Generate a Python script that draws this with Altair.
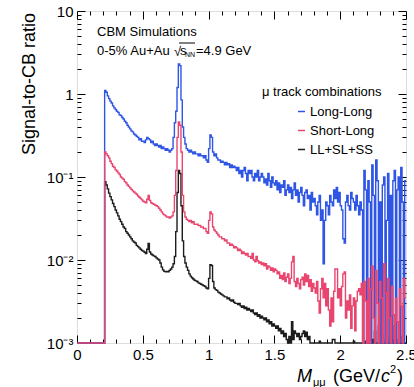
import altair as alt
import pandas as pd

# ---------------- data ----------------
BIN_START = 0.21   # first bin lower edge (GeV/c^2)
BIN_WIDTH = 0.01
X_MAX = 2.5
FLOOR = 0.0009     # bins whose content is below the 10^-3 axis floor

series_names = ["Long-Long", "Short-Long", "LL+SL+SS"]
series_colors = ["#2f55e4", "#e9466f", "#1c1c1c"]

long_long = [
    1.10, 1.05, 0.95, 0.88, 0.82, 0.78, 0.72, 0.68, 0.65, 0.62,
    0.60, 0.56, 0.55, 0.52, 0.50, 0.47, 0.45, 0.42, 0.40, 0.38,
    0.36, 0.35, 0.33, 0.32, 0.31, 0.30, 0.28, 0.29, 0.27, 0.27,
    0.26, 0.28, 0.30, 0.29, 0.28, 0.26, 0.27, 0.25, 0.24, 0.25,
    0.24, 0.23, 0.24, 0.22, 0.23, 0.22, 0.21, 0.22, 0.21, 0.20,
    0.21, 0.22, 0.30, 0.45, 0.62, 1.20, 2.30, 2.20, 0.85, 0.40,
    0.30, 0.25, 0.22, 0.21, 0.20, 0.21, 0.20, 0.19, 0.20, 0.19,
    0.19, 0.18, 0.19, 0.18, 0.18, 0.17, 0.18, 0.16, 0.15, 0.22,
    0.32, 0.30, 0.20, 0.18, 0.19, 0.17, 0.16, 0.16, 0.15, 0.155,
    0.15, 0.14, 0.15, 0.14, 0.145, 0.13, 0.14, 0.13, 0.135, 0.13,
    0.12, 0.13, 0.11, 0.12, 0.10, 0.12, 0.13, 0.11, 0.09, 0.12,
    0.11, 0.12, 0.10, 0.09, 0.11, 0.10, 0.12, 0.09, 0.10, 0.11,
    0.10, 0.085, 0.095, 0.08, 0.11, 0.09, 0.075, 0.10, 0.085, 0.08,
    0.09, 0.07, 0.085, 0.065, 0.08, 0.075, 0.09, 0.06, 0.07, 0.08,
    0.065, 0.075, 0.055, 0.07, 0.085, 0.06, 0.07, 0.05, 0.065, 0.075,
    0.06, 0.045, 0.065, 0.07, 0.055, 0.06, 0.04, 0.065, 0.05, 0.055,
    0.045, 0.035, 0.05, 0.06, 0.03, 0.04, 0.009, 0.03, 0.05, 0.045,
    0.035, 0.06, 0.05, 0.045, 0.07, 0.055, 0.075, 0.05, 0.065, 0.045,
    0.04, 0.018, 0.016, 0.05, 0.06, 0.045, 0.04, 0.065, 0.055, 0.05,
    0.04, 0.06, 0.045, 0.035, 0.05, 0.04, 0.0009, 0.12, 0.07, 0.0009,
    0.09, 0.05, 0.0009, 0.14, 0.06, 0.0009, 0.16, 0.09, 0.0009, 0.05,
    0.0009, 0.08, 0.10, 0.0009, 0.03, 0.11, 0.0009, 0.06, 0.0009, 0.09,
    0.12, 0.0009, 0.07, 0.10, 0.0009, 0.13, 0.05, 0.0009, 0.09,
]

short_long = [
    0.20, 0.19, 0.18, 0.17, 0.155, 0.145, 0.135, 0.13, 0.122, 0.118,
    0.112, 0.107, 0.10, 0.097, 0.094, 0.088, 0.085, 0.08, 0.077, 0.074,
    0.071, 0.068, 0.066, 0.064, 0.062, 0.059, 0.057, 0.055, 0.053, 0.051,
    0.050, 0.049, 0.054, 0.060, 0.052, 0.049, 0.048, 0.047, 0.046, 0.045,
    0.044, 0.042, 0.040, 0.038, 0.036, 0.035, 0.034, 0.033, 0.033, 0.032,
    0.033, 0.034, 0.038, 0.06, 0.12, 0.30, 0.46, 0.42, 0.20, 0.06,
    0.038, 0.033, 0.031, 0.030, 0.029, 0.030, 0.028, 0.029, 0.027, 0.027,
    0.027, 0.026, 0.026, 0.025, 0.025, 0.024, 0.024, 0.022, 0.021, 0.03,
    0.038, 0.036, 0.025, 0.023, 0.022, 0.021, 0.020, 0.019, 0.019, 0.018,
    0.018, 0.017, 0.0175, 0.016, 0.016, 0.015, 0.0155, 0.015, 0.014, 0.0145,
    0.014, 0.013, 0.0135, 0.013, 0.012, 0.0125, 0.012, 0.0115, 0.012, 0.011,
    0.011, 0.0105, 0.012, 0.010, 0.0095, 0.011, 0.0098, 0.0092, 0.0095, 0.0088,
    0.0092, 0.0085, 0.009, 0.0078, 0.0085, 0.0082, 0.0075, 0.008, 0.0072, 0.0078,
    0.0075, 0.0068, 0.0072, 0.006, 0.0065, 0.0058, 0.007, 0.0055, 0.0062, 0.0068,
    0.0052, 0.0060, 0.0095, 0.0110, 0.0055, 0.0048, 0.006, 0.0052, 0.0045, 0.0058,
    0.0062, 0.005, 0.0068, 0.0055, 0.0065, 0.0048, 0.0058, 0.0042, 0.0052, 0.0046,
    0.004, 0.0055, 0.0032, 0.0023, 0.0045, 0.006, 0.0035, 0.0052, 0.0028, 0.0045,
    0.0025, 0.0016, 0.0035, 0.0018, 0.0042, 0.0078, 0.0078, 0.0035, 0.0045, 0.0028,
    0.0048, 0.0068, 0.0072, 0.0020, 0.0032, 0.0025, 0.0038, 0.0015, 0.0028, 0.0035,
    0.0014, 0.0032, 0.0042, 0.0045, 0.0038, 0.0052, 0.0009, 0.0055, 0.0032, 0.0009,
    0.006, 0.0009, 0.0045, 0.0085, 0.002, 0.0009, 0.0075, 0.003, 0.0009, 0.0055,
    0.0035, 0.0009, 0.009, 0.004, 0.0009, 0.006, 0.002, 0.0009, 0.0048, 0.0022,
    0.0009, 0.0035, 0.0018, 0.0009, 0.0045, 0.0028, 0.0009, 0.006, 0.0035,
]

all_comb = [
    0.088, 0.080, 0.072, 0.064, 0.058, 0.053, 0.048, 0.044, 0.040, 0.037,
    0.034, 0.031, 0.029, 0.027, 0.025, 0.024, 0.022, 0.021, 0.020, 0.019,
    0.018, 0.017, 0.0165, 0.016, 0.015, 0.0145, 0.014, 0.0135, 0.013, 0.0128,
    0.0124, 0.012, 0.0135, 0.0158, 0.0125, 0.0118, 0.0115, 0.0112, 0.011, 0.0106,
    0.0103, 0.0100, 0.0092, 0.0082, 0.0076, 0.0073, 0.0072, 0.0073, 0.0072, 0.0075,
    0.0078, 0.0082, 0.009, 0.011, 0.022, 0.065, 0.12, 0.11, 0.045, 0.017,
    0.011, 0.0092, 0.0082, 0.0075, 0.0068, 0.0064, 0.0061, 0.0059, 0.0057, 0.0056,
    0.0055, 0.0053, 0.0052, 0.0051, 0.0050, 0.0049, 0.0048, 0.0046, 0.0045, 0.006,
    0.0088, 0.0086, 0.0055, 0.0046, 0.0044, 0.0043, 0.0041, 0.0040, 0.0039, 0.0038,
    0.0037, 0.0036, 0.0036, 0.0034, 0.0035, 0.0033, 0.0032, 0.0033, 0.0031, 0.0030,
    0.0030, 0.0029, 0.0030, 0.0028, 0.0027, 0.0028, 0.0026, 0.0027, 0.0025, 0.0026,
    0.0025, 0.0024, 0.0025, 0.0023, 0.0022, 0.0023, 0.0021, 0.0022, 0.0020, 0.0021,
    0.0020, 0.0019, 0.0020, 0.0018, 0.0019, 0.0017, 0.0018, 0.0016, 0.0017, 0.0016,
    0.0015, 0.0016, 0.0014, 0.0015, 0.0013, 0.0014, 0.0012, 0.0013, 0.0011, 0.0009,
    0.0012, 0.0009, 0.0018, 0.0011, 0.0014, 0.0013, 0.0012, 0.0013, 0.0011, 0.0012,
    0.0013, 0.0014, 0.0012, 0.00135, 0.0011, 0.0012, 0.0009, 0.0009, 0.0009, 0.0009,
    0.0009, 0.0009, 0.0009, 0.00105, 0.0009, 0.0009, 0.0009, 0.0009, 0.0009, 0.0009,
    0.0009, 0.0009, 0.0009, 0.0011, 0.0011, 0.0009, 0.0009, 0.0009, 0.0009, 0.0009,
    0.0009, 0.0009, 0.0009, 0.0009, 0.0009, 0.0009, 0.0009, 0.0009, 0.0009, 0.00105,
    0.0009, 0.0009, 0.0009, 0.0009, 0.0009, 0.0009, 0.0009, 0.0009, 0.00105, 0.0009,
    0.0012, 0.0009, 0.0009, 0.0011, 0.0009, 0.0014, 0.0009, 0.0009, 0.0016, 0.0009,
    0.0009, 0.0011, 0.0009, 0.0009, 0.0012, 0.0009, 0.0009, 0.0013, 0.0009, 0.0009,
    0.0016, 0.0009, 0.0009, 0.0011, 0.0009, 0.0009, 0.0012, 0.0009, 0.0009,
]

x_major = [0, 0.5, 1, 1.5, 2, 2.5]
x_minor = [round(0.1 * i, 1) for i in range(26) if i % 5]
y_major = [0.001, 0.01, 0.1, 1, 10]
y_minor = [k * 10.0 ** e for e in range(-3, 1) for k in range(2, 10)]

# ---------------- table ----------------
rows = []
for name, vals in zip(series_names, [long_long, short_long, all_comb]):
    rows.append({"series": name, "m": 0.0, "r": FLOOR})
    for i, v in enumerate(vals):
        rows.append({"series": name, "m": round(BIN_START + i * BIN_WIDTH, 2), "r": v})
    rows.append({"series": name, "m": X_MAX, "r": vals[-1]})
df = pd.DataFrame(rows)

FONT = "Liberation Sans"
W, H = 329, 332

xs = alt.Scale(domain=[0, X_MAX], nice=False, zero=False)
ys = alt.Scale(type="log", domain=[0.001, 10], nice=False, clamp=True)

legend = alt.Legend(
    orient="none", legendX=185, legendY=75, direction="vertical",
    title="\u03bc track combinations", titleFont=FONT, titleFontSize=13,
    titleFontWeight="normal", titleColor="black", titlePadding=6,
    labelFont=FONT, labelFontSize=13, labelColor="black", labelOffset=2,
    symbolType="stroke", symbolSize=50, symbolStrokeWidth=1.5,
    symbolOffset=33, rowPadding=5, padding=0, titleLimit=300,
)
color = alt.Color("series:N",
                  scale=alt.Scale(domain=series_names, range=series_colors),
                  legend=legend)


def series_layer(name):
    return (alt.Chart(df)
            .transform_filter(alt.datum.series == name)
            .mark_line(interpolate="step-after", strokeWidth=1.4)
            .encode(x=alt.X("m:Q", scale=xs, axis=None),
                    y=alt.Y("r:Q", scale=ys, axis=None),
                    color=color))


common = dict(domain=False, grid=False, tickColor="black", tickWidth=1, title=None)


def axis_layer(xaxis, yaxis):
    return (alt.Chart(df).mark_point(opacity=0)
            .encode(x=alt.X("m:Q", scale=xs, axis=xaxis),
                    y=alt.Y("r:Q", scale=ys, axis=yaxis)))


ylab = ("datum.value >= 9 ? '10' : datum.value >= 0.9 ? '1' : "
        "datum.value >= 0.09 ? '10\u207b\u00b9' : datum.value >= 0.009 ? '10\u207b\u00b2' : '10\u207b\u00b3'")

ax_main = axis_layer(
    alt.Axis(orient="bottom", values=x_major, tickSize=8, offset=-8, format="~g",
             labelFont=FONT, labelFontSize=15, labelColor="black", labelPadding=4,
             labelFlush=False, labelOverlap=False, **common),
    alt.Axis(orient="left", values=y_major, tickSize=8, offset=-8, labelExpr=ylab,
             labelFont=FONT, labelFontSize=15, labelColor="black", labelPadding=4,
             labelOverlap=False, **common),
)
ax_minor = axis_layer(
    alt.Axis(orient="bottom", values=x_minor, tickSize=4, offset=-4, labels=False, **common),
    alt.Axis(orient="left", values=y_minor, tickSize=4, offset=-4, labels=False, **common),
)
ax_top = axis_layer(
    alt.Axis(orient="top", values=x_major, tickSize=8, offset=-8, labels=False, **common),
    alt.Axis(orient="right", values=y_major, tickSize=8, offset=-8, labels=False, **common),
)
ax_top_minor = axis_layer(
    alt.Axis(orient="top", values=x_minor, tickSize=4, offset=-4, labels=False, **common),
    alt.Axis(orient="right", values=y_minor, tickSize=4, offset=-4, labels=False, **common),
)

one = alt.Data(values=[{}])


def txt(s, x, y, size=13, italic=False, align="left", angle=None):
    kw = dict(text=s, font=FONT, fontSize=size, color="black", align=align,
              baseline="alphabetic")
    if italic:
        kw["fontStyle"] = "italic"
    if angle is not None:
        kw["angle"] = angle
        kw["baseline"] = "middle"
    return alt.Chart(one).mark_text(**kw).encode(x=alt.value(x), y=alt.value(y))


notes = [
    txt("CBM Simulations", 20, 25),
    txt("0-5% Au+Au", 20, 44),
    txt("\u221a", 97, 45),
    txt("s", 103, 44),
    txt("NN", 108, 46, size=7),
    txt("=4.9 GeV", 119, 44),
    alt.Chart(one).mark_rule(color="black", strokeWidth=1).encode(
        x=alt.value(102), x2=alt.value(118), y=alt.value(32)),
    txt("M", 220, 371, size=18, italic=True),
    txt("\u03bc\u03bc", 236, 375, size=11),
    txt("(GeV/", 256, 371, size=18),
    txt("c", 304, 371, size=18, italic=True),
    txt("2", 313, 362, size=11),
    txt(")", 320, 371, size=18),
    txt("Signal-to-CB ratio", -47, 2, size=18, align="right", angle=270),
]

chart = (alt.layer(
    ax_main, ax_minor, ax_top, ax_top_minor,
    series_layer("LL+SL+SS"), series_layer("Long-Long"), series_layer("Short-Long"),
    *notes)
    .resolve_axis(x="independent", y="independent")
    .properties(width=W, height=H,
                autosize=alt.AutoSizeParams(type="none"),
                padding={"left": 77, "top": 11, "right": 8, "bottom": 44},
                background="white")
    .configure_view(stroke="black", strokeWidth=1)
    .configure(font=FONT)
)

chart.save("out.html", embed_options={"renderer": "svg", "actions": False})
